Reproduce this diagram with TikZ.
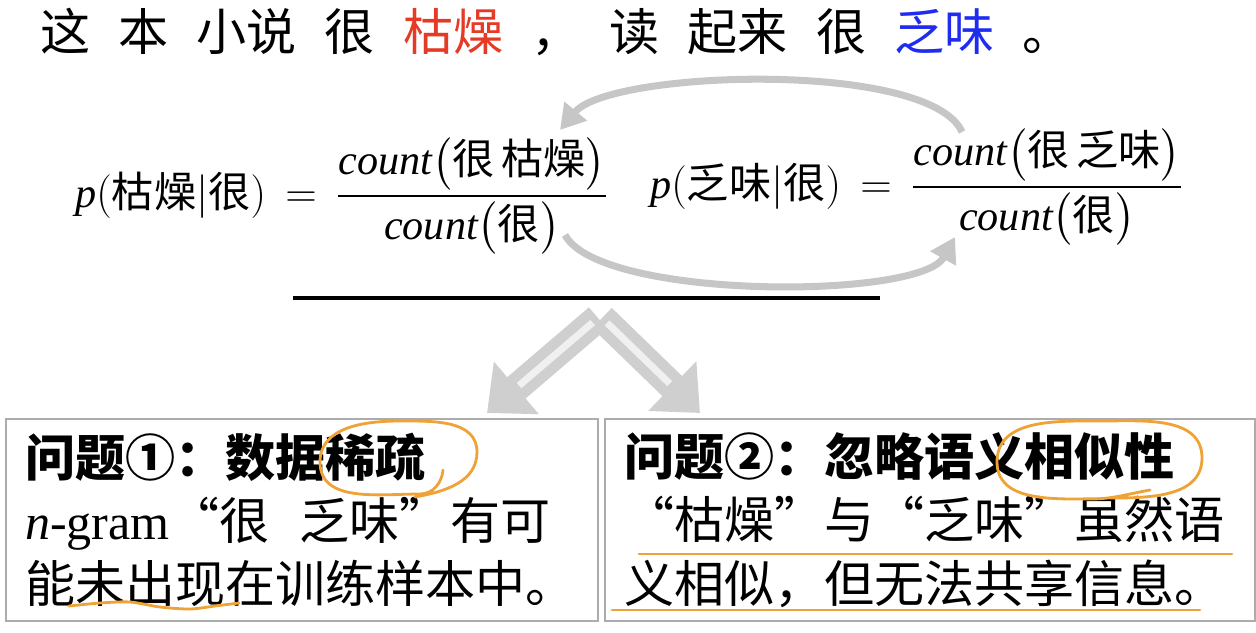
\documentclass[tikz,border=0pt]{standalone}
\usepackage{amsmath}
\usepackage{fontspec}
\newfontfamily\cjk{Noto Sans CJK SC}
\newfontfamily\serifw{Liberation Serif}
\usetikzlibrary{arrows.meta,positioning}

\definecolor{dryred}{HTML}{E53A25}
\definecolor{blandblue}{HTML}{1F2CF0}
\definecolor{penorange}{HTML}{EFA236}
\newcommand{\zw}[1]{\mbox{\cjk #1}}
\newcommand{\vi}[1]{\mbox{\serifw\itshape #1}}
\newcommand{\wgap}{\hspace{16pt}}

\begin{document}
\begin{tikzpicture}[x=0.02cm,y=0.02cm,
  sentence/.style={font=\cjk\fontsize{28.5}{34}\selectfont, inner sep=0pt},
  formula/.style={font=\fontsize{24}{28}\selectfont, inner sep=0pt},
  probbox/.style={draw=gray!65, line width=1.2pt, anchor=north west, align=left,
    minimum height=4.04cm, inner xsep=0.38cm, inner ysep=0pt,
    font=\cjk\fontsize{28.5}{36}\selectfont},
  turnarrow/.style={draw=gray!45, line width=4pt, -{Triangle[length=14pt,width=16pt]}},
  fatarrow/.style={draw=gray!38, line width=16pt, -{Triangle[length=22pt,width=38pt]}},
  fatshine/.style={draw=gray!12, line width=4pt, shorten >=24pt, shorten <=4pt},
  penline/.style={draw=penorange, line width=1.6pt, line cap=round}
]
\useasboundingbox (0,0) rectangle (1256,-632);

% the sentence
\node[sentence, anchor=base west] (sent) at (40,-50)
  {这\wgap 本\wgap 小说\wgap 很\wgap \textcolor{dryred}{枯燥}\wgap ，\wgap 读\wgap 起来\wgap 很\wgap \textcolor{blandblue}{乏味}\wgap 。};

% bigram probabilities
\node[formula, anchor=base west] (eqA) at (75,-207)
  {$\vi{p}(\zw{枯燥}|\zw{很})\,=\,\dfrac{\vi{count}\!\left(\zw{很\,枯燥}\right)}{\vi{count}\!\left(\zw{很}\right)}$};
\node[formula, anchor=base west] (eqB) at (650,-198)
  {$\vi{p}(\zw{乏味}|\zw{很})\,=\,\dfrac{\vi{count}\!\left(\zw{很\,乏味}\right)}{\vi{count}\!\left(\zw{很}\right)}$};

% swap arrows
\coordinate (topFrom) at (962,-132);
\coordinate (topTo) at (560,-130);
\draw[turnarrow] (topFrom) .. controls (930,-60) and (610,-70) .. (topTo);
\coordinate (lowFrom) at (565,-235);
\coordinate (lowTo) at (955,-237);
\draw[turnarrow] (lowFrom) .. controls (600,-300) and (920,-300) .. (lowTo);

% rule
\coordinate (ruleL) at (293,-298);
\coordinate (ruleR) at (880,-298);
\draw[line width=2pt] (ruleL) -- (ruleR);

% problem boxes
\node[probbox, text width=11.08cm] (probA) at (5,-418)
  {{\bfseries 问题①：数据稀疏}\\
   {\serifw\itshape n}{\serifw -gram}“很\hspace{0.6em}乏味”有可\\
   能未出现在训练样本中。};
\node[probbox, text width=12.24cm] (probB) at (604,-418)
  {{\bfseries 问题②：忽略语义相似性}\\
   “枯燥”与“乏味”虽然语\\
   义相似，但无法共享信息。};

% fork arrows
\coordinate (forkA) at (598,-318);
\coordinate (forkB) at (602,-318);
\coordinate (tipA) at (487,-413);
\coordinate (tipB) at (700,-413);
\draw[fatarrow] (forkA) -- (tipA);
\draw[fatarrow] (forkB) -- (tipB);
\draw[fatshine] (forkA) -- (tipA);
\draw[fatshine] (forkB) -- (tipB);

% pen marks
\draw[penline] (443,-470) to[out=-95,in=0] (420,-494) to[out=180,in=-90] (320,-462)
  to[out=90,in=180] (400,-421) to[out=0,in=90] (477,-452) to[out=-90,in=10] (415,-497);
\draw[penline] plot[smooth] coordinates {(69,-606) (100,-603) (130,-602) (160,-607) (190,-609) (215,-606) (239,-603)};
\draw[penline] (1150,-490) to[out=190,in=0] (1090,-499) to[out=180,in=-90] (997,-462)
  to[out=90,in=180] (1100,-421) to[out=0,in=90] (1202,-458) to[out=-90,in=0] (1110,-498);
\draw[penline] (639,-554) -- (1232,-554);
\draw[penline] (612,-610) -- (1200,-610);
\end{tikzpicture}
\end{document}
